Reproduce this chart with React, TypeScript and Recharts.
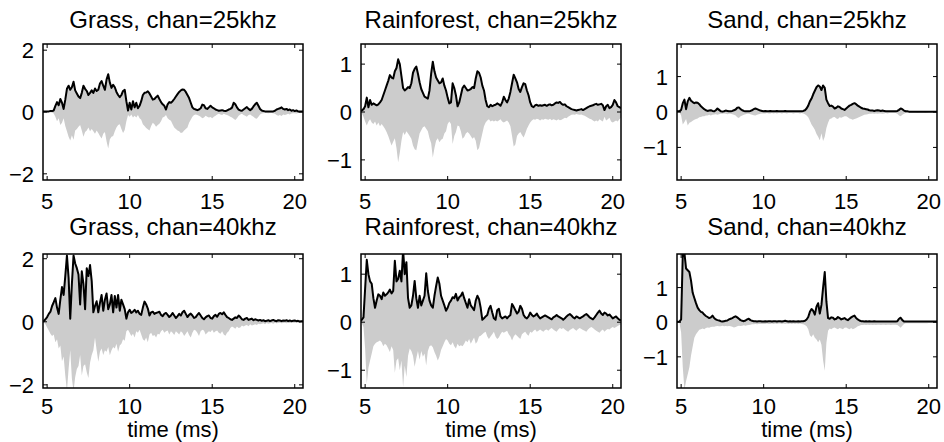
import React from "react"
import { ComposedChart, Area, Line, XAxis, YAxis, ReferenceArea } from "recharts"

// time axis (ms), 4.7 .. 20.5 in 0.1 ms steps
const time = [
  4.7, 4.8, 4.9,
  5.0, 5.1, 5.2, 5.3, 5.4, 5.5, 5.6, 5.7, 5.8, 5.9,
  6.0, 6.1, 6.2, 6.3, 6.4, 6.5, 6.6, 6.7, 6.8, 6.9,
  7.0, 7.1, 7.2, 7.3, 7.4, 7.5, 7.6, 7.7, 7.8, 7.9,
  8.0, 8.1, 8.2, 8.3, 8.4, 8.5, 8.6, 8.7, 8.8, 8.9,
  9.0, 9.1, 9.2, 9.3, 9.4, 9.5, 9.6, 9.7, 9.8, 9.9,
  10.0, 10.1, 10.2, 10.3, 10.4, 10.5, 10.6, 10.7, 10.8, 10.9,
  11.0, 11.1, 11.2, 11.3, 11.4, 11.5, 11.6, 11.7, 11.8, 11.9,
  12.0, 12.1, 12.2, 12.3, 12.4, 12.5, 12.6, 12.7, 12.8, 12.9,
  13.0, 13.1, 13.2, 13.3, 13.4, 13.5, 13.6, 13.7, 13.8, 13.9,
  14.0, 14.1, 14.2, 14.3, 14.4, 14.5, 14.6, 14.7, 14.8, 14.9,
  15.0, 15.1, 15.2, 15.3, 15.4, 15.5, 15.6, 15.7, 15.8, 15.9,
  16.0, 16.1, 16.2, 16.3, 16.4, 16.5, 16.6, 16.7, 16.8, 16.9,
  17.0, 17.1, 17.2, 17.3, 17.4, 17.5, 17.6, 17.7, 17.8, 17.9,
  18.0, 18.1, 18.2, 18.3, 18.4, 18.5, 18.6, 18.7, 18.8, 18.9,
  19.0, 19.1, 19.2, 19.3, 19.4, 19.5, 19.6, 19.7, 19.8, 19.9,
  20.0, 20.1, 20.2, 20.3, 20.4, 20.5,
]

const xTicks = [5, 10, 15, 20]

// Grass, 25 kHz
const grass25Env = [
  0.02, 0.02, 0.02,
  0.02, 0.02, 0.03, 0.03, 0.05, 0.2, 0.32, 0.22, 0.42, 0.3,
  0.1, 0.4, 0.75, 0.85, 0.72, 0.8, 0.98, 0.7, 0.6, 0.5,
  0.45, 0.62, 0.85, 0.75, 0.68, 0.55, 0.62, 0.7, 0.62, 0.76,
  0.68, 0.72, 0.92, 1.0, 0.85, 0.72, 1.05, 1.22, 0.95, 0.78,
  0.88, 0.8, 0.65, 0.55, 0.48, 0.55, 0.68, 0.72, 0.35, 0.05,
  0.3, 0.08, 0.35, 0.15, 0.3, 0.12, 0.2, 0.35, 0.55, 0.62,
  0.63, 0.67, 0.6, 0.5, 0.4, 0.42, 0.48, 0.53, 0.42, 0.32,
  0.25, 0.2, 0.08, 0.25, 0.32, 0.3, 0.35, 0.42, 0.5, 0.58,
  0.65, 0.7, 0.73, 0.72, 0.65, 0.55, 0.45, 0.3, 0.15, 0.1,
  0.08, 0.06, 0.08, 0.12, 0.24, 0.22, 0.12, 0.1, 0.15, 0.2,
  0.15, 0.12, 0.08, 0.06, 0.04, 0.05, 0.06, 0.04, 0.03, 0.05,
  0.08, 0.1, 0.14, 0.3, 0.25, 0.15, 0.08, 0.05, 0.04, 0.08,
  0.12, 0.16, 0.1, 0.06, 0.1, 0.18, 0.25, 0.3, 0.2, 0.1,
  0.05, 0.03, 0.02, 0.02, 0.02, 0.02, 0.02, 0.02, 0.04, 0.08,
  0.1, 0.12, 0.15, 0.1, 0.08, 0.1, 0.06, 0.08, 0.04, 0.06,
  0.03, 0.05, 0.02, 0.02, 0.02, 0.02,
]
const grass25Lo = [
  -0.01, -0.01, -0.01,
  -0.01, -0.01, -0.02, -0.02, -0.05, -0.15, -0.3, -0.2, -0.42, -0.35,
  -0.2, -0.45, -0.62, -0.8, -0.92, -0.75, -0.9, -0.6, -0.55, -0.48,
  -0.42, -0.6, -0.8, -0.65, -0.6, -0.5, -0.62, -0.55, -0.62, -0.7,
  -0.6, -0.68, -0.78, -0.86, -0.7, -0.65, -0.95, -1.18, -0.88, -0.8,
  -0.78, -0.62, -0.5, -0.42, -0.4, -0.55, -0.68, -0.58, -0.3, -0.1,
  -0.15, -0.08, -0.18, -0.12, -0.18, -0.1, -0.2, -0.25, -0.4, -0.45,
  -0.52, -0.56, -0.6, -0.45, -0.35, -0.4, -0.48, -0.42, -0.38, -0.3,
  -0.18, -0.15, -0.1, -0.2, -0.25, -0.28, -0.4, -0.5, -0.55, -0.6,
  -0.62, -0.68, -0.66, -0.6, -0.55, -0.5, -0.35, -0.25, -0.15, -0.1,
  -0.08, -0.1, -0.12, -0.15, -0.2, -0.18, -0.12, -0.15, -0.18, -0.16,
  -0.2, -0.15, -0.12, -0.08, -0.06, -0.08, -0.1, -0.06, -0.08, -0.1,
  -0.12, -0.15, -0.18, -0.22, -0.26, -0.2, -0.12, -0.08, -0.06, -0.1,
  -0.12, -0.15, -0.1, -0.08, -0.12, -0.15, -0.2, -0.22, -0.15, -0.08,
  -0.05, -0.04, -0.03, -0.03, -0.04, -0.03, -0.03, -0.04, -0.06, -0.1,
  -0.12, -0.1, -0.13, -0.08, -0.1, -0.08, -0.06, -0.08, -0.05, -0.04,
  -0.04, -0.05, -0.03, -0.03, -0.02, -0.02,
]

// Grass, 40 kHz
const grass40Env = [
  0.0, 0.02, 0.08,
  0.15, 0.25, 0.32, 0.5, 0.62, 0.75, 0.45, 0.25, 0.7, 1.1,
  0.85, 1.45, 2.1, 1.4, 0.1, 1.2, 2.1, 1.85, 1.7, 1.5,
  0.55, 1.6, 1.2, 0.4, 1.7, 1.45, 1.8, 1.3, 0.3, 0.5,
  0.65, 0.3, 0.6, 0.85, 0.35, 0.7, 0.9, 0.4, 0.55, 0.85,
  0.3, 0.82, 0.45, 0.85, 0.35, 0.7, 0.55, 0.4, 0.1, 0.3,
  0.38, 0.28, 0.32, 0.38, 0.3, 0.35, 0.25, 0.22, 0.45, 0.64,
  0.55, 0.42, 0.2, 0.3, 0.32, 0.25, 0.28, 0.3, 0.32, 0.22,
  0.18, 0.25, 0.28, 0.22, 0.15, 0.2, 0.28, 0.2, 0.12, 0.18,
  0.25, 0.2, 0.3, 0.35, 0.25, 0.15, 0.22, 0.26, 0.2, 0.12,
  0.15, 0.22, 0.28, 0.2, 0.12, 0.08, 0.14, 0.18, 0.2, 0.12,
  0.1, 0.18, 0.22, 0.16, 0.25, 0.28, 0.24, 0.3, 0.22, 0.15,
  0.12, 0.08, 0.06, 0.1, 0.14, 0.12, 0.2, 0.15, 0.08, 0.06,
  0.1, 0.12, 0.06, 0.08, 0.1, 0.05, 0.08, 0.06, 0.04, 0.06,
  0.03, 0.05, 0.02, 0.03, 0.05, 0.02, 0.04, 0.06, 0.03, 0.02,
  0.05, 0.04, 0.02, 0.04, 0.03, 0.05, 0.02, 0.04, 0.02, 0.03,
  0.04, 0.02, 0.03, 0.01, 0.02, 0.02,
]
const grass40Lo = [
  -0.01, -0.02, -0.08,
  -0.18, -0.28, -0.38, -0.45, -0.4, -0.65, -0.55, -0.85, -0.75, -1.25,
  -1.1, -1.7, -2.2, -1.5, -0.9, -1.8, -2.2, -1.75, -1.5, -1.4,
  -1.05, -1.7, -1.4, -1.35, -1.6, -1.78, -1.3, -1.05, -0.9, -0.5,
  -0.9, -1.27, -0.95, -0.85, -1.05, -0.9, -0.95, -0.8, -1.06, -0.9,
  -0.8, -0.85, -0.7, -0.95, -0.75, -0.7, -0.55, -0.6, -0.3, -0.25,
  -0.35, -0.45, -0.38, -0.5, -0.3, -0.35, -0.25, -0.4, -0.55, -0.6,
  -0.5, -0.65, -0.4, -0.35, -0.45, -0.42, -0.5, -0.38, -0.4, -0.3,
  -0.25, -0.35, -0.3, -0.28, -0.4, -0.3, -0.35, -0.42, -0.3, -0.35,
  -0.4, -0.3, -0.35, -0.45, -0.38, -0.3, -0.42, -0.5, -0.35, -0.25,
  -0.28, -0.35, -0.45, -0.3, -0.25, -0.28, -0.4, -0.35, -0.3, -0.32,
  -0.25, -0.35, -0.3, -0.28, -0.35, -0.38, -0.3, -0.4, -0.44, -0.35,
  -0.3, -0.2, -0.15, -0.18, -0.22, -0.15, -0.2, -0.18, -0.12, -0.15,
  -0.12, -0.1, -0.14, -0.08, -0.12, -0.1, -0.08, -0.1, -0.06, -0.08,
  -0.06, -0.05, -0.08, -0.04, -0.06, -0.05, -0.04, -0.06, -0.03, -0.05,
  -0.04, -0.03, -0.05, -0.04, -0.03, -0.05, -0.03, -0.04, -0.03, -0.03,
  -0.03, -0.02, -0.03, -0.02, -0.02, -0.02,
]

// Rainforest, 25 kHz
const rain25Env = [
  0.02, 0.03, 0.06,
  0.12, 0.3, 0.1, 0.25, 0.15, 0.18, 0.16, 0.14, 0.16, 0.2,
  0.25, 0.35, 0.45, 0.55, 0.65, 0.77, 0.72, 0.7, 0.85, 0.92,
  1.1, 1.0, 0.75, 0.5, 0.45, 0.48, 0.52, 0.5, 0.6, 0.82,
  0.9, 0.95, 0.8, 0.62, 0.48, 0.4, 0.32, 0.3, 0.28, 0.45,
  0.8, 1.05, 0.85, 0.72, 0.66, 0.6, 0.62, 0.7, 0.55, 0.45,
  0.3, 0.18, 0.2, 0.6, 0.5, 0.35, 0.12, 0.2, 0.35, 0.5,
  0.55, 0.5, 0.45, 0.46, 0.48, 0.52, 0.5, 0.7, 0.85, 0.82,
  0.72, 0.55, 0.45, 0.25, 0.12, 0.1, 0.15, 0.12, 0.14, 0.15,
  0.18, 0.16, 0.13, 0.2, 0.32, 0.25, 0.2, 0.28, 0.42, 0.6,
  0.78, 0.7, 0.62, 0.48, 0.42, 0.52, 0.6, 0.58, 0.45, 0.35,
  0.2, 0.12, 0.1, 0.14, 0.15, 0.13, 0.14, 0.13, 0.14, 0.15,
  0.13, 0.15, 0.16, 0.14, 0.15, 0.18, 0.2, 0.19, 0.21, 0.17,
  0.15, 0.16, 0.12, 0.1, 0.08, 0.06, 0.05, 0.04, 0.03, 0.04,
  0.05, 0.06, 0.04, 0.06, 0.08, 0.1, 0.12, 0.13, 0.14, 0.16,
  0.17, 0.15, 0.16, 0.17, 0.14, 0.04, 0.12, 0.15, 0.08, 0.1,
  0.15, 0.25, 0.2, 0.12, 0.1, 0.08,
]
const rain25Lo = [
  -0.01, -0.02, -0.1,
  -0.2, -0.28, -0.2, -0.15, -0.22, -0.25, -0.2, -0.28, -0.22, -0.3,
  -0.25, -0.3, -0.35, -0.42, -0.5, -0.6, -0.7, -0.62, -0.55, -0.75,
  -1.05, -0.85, -0.6, -0.42, -0.48, -0.4, -0.45, -0.5, -0.56, -0.7,
  -0.78, -0.8, -0.62, -0.45, -0.38, -0.32, -0.3, -0.35, -0.4, -0.55,
  -0.65, -0.95, -0.75, -0.6, -0.55, -0.63, -0.58, -0.56, -0.45, -0.4,
  -0.25, -0.2, -0.25, -0.67, -0.5, -0.42, -0.28, -0.3, -0.4, -0.56,
  -0.52, -0.45, -0.42, -0.45, -0.5, -0.56, -0.52, -0.6, -0.8, -0.75,
  -0.6, -0.45, -0.3, -0.22, -0.18, -0.15, -0.2, -0.18, -0.2, -0.18,
  -0.2, -0.18, -0.15, -0.2, -0.22, -0.2, -0.18, -0.22, -0.3, -0.5,
  -0.72, -0.68, -0.5, -0.45, -0.42, -0.48, -0.53, -0.45, -0.35, -0.28,
  -0.22, -0.18, -0.15, -0.16, -0.14, -0.15, -0.18, -0.15, -0.16, -0.14,
  -0.15, -0.16, -0.14, -0.17, -0.15, -0.16, -0.18, -0.15, -0.17, -0.16,
  -0.14, -0.12, -0.13, -0.1, -0.08, -0.06, -0.05, -0.06, -0.04, -0.05,
  -0.06, -0.05, -0.07, -0.08, -0.1, -0.12, -0.14, -0.15, -0.18, -0.2,
  -0.18, -0.2, -0.15, -0.18, -0.2, -0.1, -0.18, -0.15, -0.12, -0.2,
  -0.22, -0.2, -0.18, -0.2, -0.15, -0.12,
]

// Rainforest, 40 kHz
const rain40Env = [
  0.03, 0.05, 0.1,
  0.7, 1.3, 1.0, 0.85, 0.8, 0.5, 0.3, 0.45, 0.58, 0.55,
  0.48, 0.62, 0.55, 0.58, 0.62, 0.68, 0.6, 0.65, 1.28, 0.85,
  0.9, 1.07, 0.85, 1.5, 1.0, 1.25, 0.5, 0.3, 0.35, 0.55,
  0.86, 0.5, 0.3, 0.55, 0.35, 0.45, 0.55, 1.02, 0.65, 0.45,
  0.35, 0.3, 0.55, 0.75, 0.93, 0.8, 0.55, 0.45, 0.35, 0.24,
  0.3, 0.4, 0.45, 0.52, 0.5, 0.59, 0.45, 0.52, 0.55, 0.62,
  0.5, 0.4, 0.3, 0.48, 0.35, 0.3, 0.25, 0.45, 0.55, 0.48,
  0.3, 0.05, 0.08, 0.12, 0.15, 0.28, 0.34, 0.2, 0.08, 0.05,
  0.25, 0.28, 0.12, 0.08, 0.1, 0.12, 0.08, 0.12, 0.15, 0.38,
  0.32, 0.25, 0.18, 0.22, 0.34, 0.28, 0.15, 0.1, 0.08, 0.12,
  0.2, 0.15, 0.12, 0.14, 0.18, 0.12, 0.08, 0.1, 0.12, 0.14,
  0.12, 0.1, 0.08, 0.06, 0.1, 0.12, 0.15, 0.12, 0.1, 0.08,
  0.05, 0.08, 0.12, 0.15, 0.17, 0.14, 0.1, 0.08, 0.12, 0.1,
  0.08, 0.1, 0.12, 0.15, 0.17, 0.14, 0.1, 0.08, 0.06, 0.1,
  0.15, 0.2, 0.24, 0.18, 0.15, 0.2, 0.18, 0.14, 0.16, 0.12,
  0.08, 0.1, 0.12, 0.08, 0.05, 0.04,
]
const rain40Lo = [
  -0.01, -0.02, -0.1,
  -0.55, -1.28, -0.95, -0.8, -0.65, -0.5, -0.45, -0.42, -0.4, -0.38,
  -0.42, -0.5, -0.45, -0.48, -0.55, -0.62, -0.5, -0.58, -1.05, -0.8,
  -0.75, -1.0, -0.8, -1.35, -0.9, -1.14, -0.7, -0.55, -0.6, -0.7,
  -0.93, -0.75, -0.6, -0.78, -0.6, -0.72, -0.65, -0.9, -0.6, -0.5,
  -0.48, -0.52, -0.62, -0.7, -0.8, -0.72, -0.58, -0.5, -0.42, -0.35,
  -0.38, -0.45, -0.48, -0.42, -0.5, -0.55, -0.45, -0.5, -0.48, -0.5,
  -0.45, -0.38, -0.42, -0.35, -0.45, -0.38, -0.32, -0.45, -0.4, -0.3,
  -0.28, -0.25, -0.22, -0.2, -0.3, -0.35, -0.3, -0.25, -0.2, -0.3,
  -0.35, -0.32, -0.25, -0.2, -0.22, -0.2, -0.18, -0.25, -0.3, -0.38,
  -0.3, -0.25, -0.28, -0.32, -0.35, -0.25, -0.22, -0.2, -0.25, -0.28,
  -0.2, -0.22, -0.18, -0.15, -0.2, -0.18, -0.15, -0.18, -0.2, -0.16,
  -0.15, -0.18, -0.14, -0.12, -0.15, -0.18, -0.2, -0.15, -0.12, -0.14,
  -0.12, -0.15, -0.18, -0.2, -0.16, -0.14, -0.12, -0.15, -0.18, -0.14,
  -0.12, -0.14, -0.16, -0.18, -0.2, -0.15, -0.12, -0.1, -0.12, -0.15,
  -0.18, -0.2, -0.22, -0.18, -0.15, -0.2, -0.16, -0.14, -0.15, -0.12,
  -0.1, -0.12, -0.1, -0.08, -0.06, -0.05,
]

// Sand, 25 kHz
const sand25Env = [
  0.02, 0.02, 0.02,
  0.06, 0.25, 0.35, 0.08, 0.3, 0.4, 0.32, 0.28, 0.25, 0.27,
  0.26, 0.22, 0.16, 0.12, 0.08, 0.05, 0.03, 0.04, 0.05, 0.03,
  0.02, 0.05, 0.1, 0.06, 0.02, 0.01, 0.02, 0.04, 0.03, 0.02,
  0.02, 0.03, 0.05, 0.07, 0.12, 0.13, 0.08, 0.05, 0.03, 0.02,
  0.02, 0.02, 0.03, 0.05, 0.08, 0.1, 0.08, 0.06, 0.04, 0.03,
  0.02, 0.03, 0.02, 0.02, 0.03, 0.02, 0.02, 0.02, 0.03, 0.02,
  0.02, 0.02, 0.02, 0.03, 0.02, 0.02, 0.02, 0.02, 0.02, 0.02,
  0.02, 0.02, 0.02, 0.02, 0.03, 0.05, 0.1, 0.18, 0.3, 0.38,
  0.5, 0.6, 0.7, 0.75, 0.72, 0.62, 0.75, 0.68, 0.35, 0.25,
  0.17, 0.18, 0.15, 0.1, 0.12, 0.16, 0.14, 0.1, 0.08, 0.06,
  0.1, 0.14, 0.18, 0.2, 0.23, 0.25, 0.22, 0.18, 0.15, 0.12,
  0.1, 0.09, 0.08, 0.07, 0.05, 0.04, 0.04, 0.03, 0.04, 0.05,
  0.04, 0.03, 0.04, 0.03, 0.02, 0.02, 0.02, 0.02, 0.02, 0.02,
  0.02, 0.03, 0.06, 0.1, 0.08, 0.04, 0.02, 0.02, 0.01, 0.01,
  0.01, 0.01, 0.01, 0.01, 0.01, 0.01, 0.01, 0.01, 0.01, 0.01,
  0.01, 0.01, 0.01, 0.01, 0.01, 0.01,
]
const sand25Lo = [
  -0.01, -0.01, -0.01,
  -0.1, -0.35, -0.28, -0.2, -0.38, -0.3, -0.28, -0.25, -0.22, -0.2,
  -0.18, -0.15, -0.14, -0.12, -0.12, -0.1, -0.1, -0.08, -0.1, -0.08,
  -0.07, -0.06, -0.08, -0.06, -0.05, -0.05, -0.04, -0.05, -0.06, -0.05,
  -0.05, -0.06, -0.08, -0.1, -0.15, -0.17, -0.12, -0.1, -0.08, -0.06,
  -0.05, -0.05, -0.06, -0.08, -0.09, -0.1, -0.08, -0.06, -0.05, -0.04,
  -0.04, -0.04, -0.03, -0.04, -0.04, -0.03, -0.04, -0.03, -0.04, -0.03,
  -0.03, -0.04, -0.03, -0.03, -0.04, -0.03, -0.03, -0.03, -0.04, -0.03,
  -0.03, -0.03, -0.04, -0.03, -0.04, -0.06, -0.1, -0.15, -0.25, -0.35,
  -0.42, -0.5, -0.62, -0.7, -0.8, -0.6, -0.82, -0.7, -0.45, -0.3,
  -0.2, -0.18, -0.15, -0.14, -0.18, -0.2, -0.15, -0.16, -0.14, -0.12,
  -0.12, -0.15, -0.18, -0.2, -0.22, -0.2, -0.18, -0.16, -0.14, -0.12,
  -0.1, -0.08, -0.07, -0.06, -0.05, -0.05, -0.04, -0.05, -0.04, -0.05,
  -0.04, -0.04, -0.05, -0.04, -0.03, -0.04, -0.03, -0.03, -0.03, -0.03,
  -0.03, -0.05, -0.1, -0.12, -0.08, -0.05, -0.03, -0.02, -0.02, -0.02,
  -0.02, -0.02, -0.02, -0.03, -0.02, -0.02, -0.02, -0.02, -0.03, -0.02,
  -0.01, -0.01, -0.01, -0.01, -0.01, -0.01,
]

// Sand, 40 kHz
const sand40Env = [
  0.01, 0.01, 0.02,
  0.08, 1.95, 2.0, 1.55, 1.5, 1.45, 1.2, 0.85, 0.7, 0.55,
  0.42, 0.35, 0.3, 0.28, 0.22, 0.18, 0.15, 0.12, 0.14, 0.19,
  0.12, 0.08, 0.06, 0.05, 0.03, 0.02, 0.03, 0.04, 0.05, 0.08,
  0.1, 0.12, 0.15, 0.17, 0.14, 0.1, 0.06, 0.04, 0.03, 0.05,
  0.08, 0.1, 0.06, 0.04, 0.03, 0.03, 0.02, 0.03, 0.03, 0.02,
  0.02, 0.03, 0.02, 0.03, 0.03, 0.02, 0.03, 0.03, 0.02, 0.03,
  0.03, 0.02, 0.03, 0.04, 0.03, 0.02, 0.03, 0.02, 0.03, 0.02,
  0.02, 0.03, 0.02, 0.03, 0.03, 0.04, 0.08, 0.15, 0.3, 0.38,
  0.33, 0.22, 0.45, 0.55, 0.25, 0.5, 1.0, 1.45, 0.6, 0.12,
  0.1, 0.14, 0.13, 0.08, 0.1, 0.15, 0.12, 0.08, 0.1, 0.12,
  0.08, 0.06, 0.1, 0.14, 0.17, 0.19, 0.12, 0.08, 0.05, 0.03,
  0.03, 0.02, 0.03, 0.02, 0.03, 0.02, 0.02, 0.03, 0.02, 0.02,
  0.02, 0.02, 0.02, 0.02, 0.02, 0.02, 0.02, 0.02, 0.02, 0.02,
  0.02, 0.03, 0.1, 0.13, 0.06, 0.02, 0.02, 0.02, 0.02, 0.02,
  0.02, 0.02, 0.02, 0.02, 0.02, 0.02, 0.02, 0.02, 0.02, 0.02,
  0.02, 0.02, 0.02, 0.02, 0.02, 0.02,
]
const sand40Lo = [
  -0.01, -0.01, -0.02,
  -0.3, -1.3, -1.95, -1.7, -1.5, -1.3, -0.96, -0.7, -0.45, -0.35,
  -0.28, -0.22, -0.2, -0.18, -0.2, -0.17, -0.15, -0.16, -0.14, -0.13,
  -0.13, -0.12, -0.11, -0.12, -0.12, -0.1, -0.12, -0.11, -0.12, -0.11,
  -0.12, -0.13, -0.15, -0.14, -0.12, -0.1, -0.11, -0.1, -0.09, -0.1,
  -0.09, -0.08, -0.07, -0.06, -0.06, -0.05, -0.06, -0.05, -0.05, -0.05,
  -0.05, -0.05, -0.04, -0.05, -0.05, -0.04, -0.05, -0.04, -0.05, -0.04,
  -0.04, -0.05, -0.04, -0.05, -0.04, -0.05, -0.04, -0.05, -0.04, -0.05,
  -0.04, -0.05, -0.04, -0.05, -0.06, -0.08, -0.12, -0.2, -0.38, -0.43,
  -0.35, -0.45, -0.5, -0.58, -0.5, -0.65, -1.1, -1.4, -0.6, -0.25,
  -0.18, -0.2, -0.17, -0.15, -0.18, -0.2, -0.17, -0.18, -0.2, -0.16,
  -0.15, -0.18, -0.2, -0.17, -0.2, -0.18, -0.15, -0.12, -0.1, -0.08,
  -0.08, -0.07, -0.08, -0.07, -0.08, -0.07, -0.08, -0.07, -0.08, -0.07,
  -0.07, -0.08, -0.07, -0.07, -0.08, -0.07, -0.07, -0.08, -0.07, -0.07,
  -0.07, -0.08, -0.12, -0.16, -0.1, -0.05, -0.03, -0.03, -0.03, -0.03,
  -0.03, -0.03, -0.03, -0.03, -0.03, -0.03, -0.03, -0.03, -0.03, -0.03,
  -0.02, -0.02, -0.02, -0.02, -0.02, -0.02,
]

const panels = [
  { title: "Grass, chan=25khz", env: grass25Env, lo: grass25Lo, y: [-2.2, 2.2], yTicks: [-2, 0, 2], col: 0, row: 0 },
  { title: "Rainforest, chan=25khz", env: rain25Env, lo: rain25Lo, y: [-1.42, 1.42], yTicks: [-1, 0, 1], col: 1, row: 0 },
  { title: "Sand, chan=25khz", env: sand25Env, lo: sand25Lo, y: [-1.92, 1.92], yTicks: [-1, 0, 1], col: 2, row: 0 },
  { title: "Grass, chan=40khz", env: grass40Env, lo: grass40Lo, y: [-2.1, 2.15], yTicks: [-2, 0, 2], col: 0, row: 1 },
  { title: "Rainforest, chan=40khz", env: rain40Env, lo: rain40Lo, y: [-1.37, 1.42], yTicks: [-1, 0, 1], col: 1, row: 1 },
  { title: "Sand, chan=40khz", env: sand40Env, lo: sand40Lo, y: [-1.9, 1.97], yTicks: [-1, 0, 1], col: 2, row: 1 },
]

const FONT = "'Liberation Sans', Arial, Helvetica, sans-serif"
const colLeft = [43, 361, 677]
const rowTop = [44, 254]
const rowH = [136, 134]
const xMargin = [13, 10]
const PW = 260
const YW = 44
const MT = 6
const MR = 8
const XH = 36
const TICK = 4

const fmt = (v: number) => (v < 0 ? "\u2212" + Math.abs(v) : String(v))

function XTick({ x, y, payload, plotH, gap }: any) {
  const axisY = y - gap
  return (
    <g>
      <line x1={x} x2={x} y1={axisY} y2={axisY - TICK} stroke="#000" />
      <line x1={x} x2={x} y1={axisY - plotH} y2={axisY - plotH + TICK} stroke="#000" />
      <text x={x} y={y} dy="0.71em" textAnchor="middle" fontSize={22} fontFamily={FONT} fill="#000">
        {payload.value}
      </text>
    </g>
  )
}

function YTick({ x, y, payload }: any) {
  const axisX = x + 9
  return (
    <g>
      <line x1={axisX} x2={axisX + TICK} y1={y} y2={y} stroke="#000" />
      <line x1={axisX + PW} x2={axisX + PW - TICK} y1={y} y2={y} stroke="#000" />
      <text x={x} y={y} dy="0.36em" textAnchor="end" fontSize={22} fontFamily={FONT} fill="#000">
        {fmt(payload.value)}
      </text>
    </g>
  )
}

function Panel({ p }: any) {
  const h = rowH[p.row]
  const gap = xMargin[p.row]
  const data = time.map((t, i) => ({ t, env: p.env[i], band: [p.lo[i], p.env[i]] }))
  return (
    <div
      style={{
        position: "absolute",
        left: colLeft[p.col] - YW,
        top: rowTop[p.row] - MT,
      }}
    >
      <ComposedChart
        width={YW + PW + MR}
        height={MT + h + XH}
        data={data}
        margin={{ top: MT, right: MR, bottom: 0, left: 0 }}
      >
        <XAxis
          dataKey="t"
          type="number"
          domain={[4.75, 20.5]}
          ticks={xTicks}
          interval={0}
          allowDataOverflow
          axisLine={false}
          tickLine={false}
          tickSize={0}
          tickMargin={gap}
          height={XH}
          tick={(props: any) => <XTick {...props} plotH={h} gap={gap} />}
        />
        <YAxis
          type="number"
          domain={p.y}
          ticks={p.yTicks}
          interval={0}
          allowDataOverflow
          axisLine={false}
          tickLine={false}
          tickSize={0}
          tickMargin={9}
          width={YW}
          tick={(props: any) => <YTick {...props} />}
        />
        <Area
          type="linear"
          dataKey="band"
          stroke="none"
          fill="#cccccc"
          fillOpacity={1}
          dot={false}
          activeDot={false}
          isAnimationActive={false}
        />
        <Line
          type="linear"
          dataKey="env"
          stroke="#000"
          strokeWidth={2}
          strokeLinejoin="round"
          dot={false}
          activeDot={false}
          isAnimationActive={false}
        />
        <ReferenceArea
          x1={4.75}
          x2={20.5}
          y1={p.y[0]}
          y2={p.y[1]}
          fill="none"
          stroke="#000"
          strokeWidth={1.5}
          ifOverflow="visible"
        />
      </ComposedChart>
    </div>
  )
}

export default function App() {
  const titleBase = [28, 235]
  return (
    <div style={{ position: "absolute", left: 0, top: 0, width: 944, height: 442, background: "#fff" }}>
      {panels.map((p) => (
        <Panel key={p.title} p={p} />
      ))}
      <svg width={944} height={442} style={{ position: "absolute", left: 0, top: 0, pointerEvents: "none" }}>
        {panels.map((p) => (
          <text
            key={p.title}
            x={colLeft[p.col] + PW / 2}
            y={titleBase[p.row]}
            textAnchor="middle"
            fontSize={24}
            fontFamily={FONT}
            fill="#000"
          >
            {p.title}
          </text>
        ))}
        {colLeft.map((l) => (
          <text key={l} x={l + PW / 2} y={437} textAnchor="middle" fontSize={22} fontFamily={FONT} fill="#000">
            time (ms)
          </text>
        ))}
      </svg>
    </div>
  )
}
